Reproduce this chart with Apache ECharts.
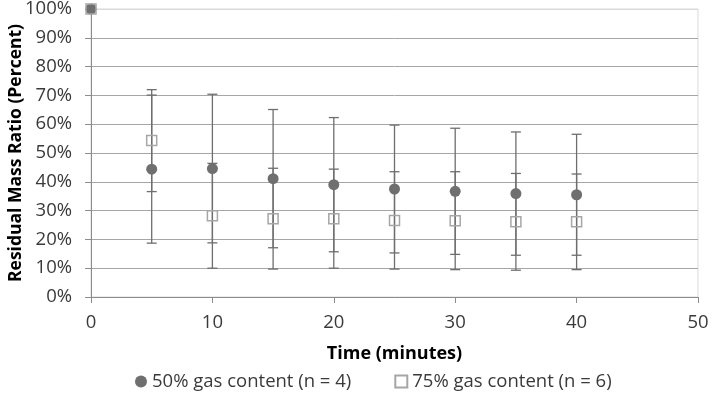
<!DOCTYPE html>
<html><head><meta charset="utf-8">
<script src="https://cdn.jsdelivr.net/npm/echarts@6/dist/echarts.min.js"></script>
<style>html,body{margin:0;padding:0;background:#fff}#c{width:714px;height:400px}</style>
</head><body><div id="c"></div>
<script>
const timeMinutes = [0, 5, 10, 15, 20, 25, 30, 35, 40];
const gas50Mean = [100, 44.4, 44.6, 41.1, 39.0, 37.5, 36.7, 35.9, 35.5];
const gas50Err  = [0, 25.7, 25.8, 24.0, 23.3, 22.2, 21.9, 21.4, 21.0];
const gas75Mean = [100, 54.3, 28.2, 27.2, 27.2, 26.6, 26.5, 26.1, 26.1];
const gas75Err  = [0, 17.7, 18.2, 17.5, 17.2, 16.9, 17.0, 16.8, 16.6];
const xTicks = [0, 10, 20, 30, 40, 50];
const yTicks = [0, 10, 20, 30, 40, 50, 60, 70, 80, 90, 100];
const seriesNames = ['50% gas content (n = 4)', '75% gas content (n = 6)'];

const FONT = 'Open Sans';
const TXT = '#3a3a3a';
const BAR = '#6e6e6e';

function pts(means) { return timeMinutes.map((t, i) => [t, means[i]]); }
function errs(means, e) {
  return timeMinutes.map((t, i) => [t, means[i] - e[i], means[i] + e[i]]).filter((d, i) => e[i] > 0);
}
function renderErr(params, api) {
  const x = api.value(0), lo = api.value(1), hi = api.value(2);
  const top = api.coord([x, hi]), bot = api.coord([x, lo]);
  const w = 5;
  const st = { stroke: BAR, lineWidth: 1.3 };
  return { type: 'group', children: [
    { type: 'line', shape: { x1: top[0], y1: top[1], x2: bot[0], y2: bot[1] }, style: st },
    { type: 'line', shape: { x1: top[0] - w, y1: top[1], x2: top[0] + w, y2: top[1] }, style: st },
    { type: 'line', shape: { x1: bot[0] - w, y1: bot[1], x2: bot[0] + w, y2: bot[1] }, style: st }
  ]};
}
const gridColors = yTicks.map(v => v === 100 ? '#d9d9d9' : '#a6a6a6');

const chart = echarts.init(document.getElementById('c'), null, { renderer: 'canvas' });
chart.setOption({
  animation: false,
  backgroundColor: '#fff',
  textStyle: { fontFamily: FONT },
  grid: { left: 91, right: 16, top: 9, bottom: 103, containLabel: false, outerBoundsMode: 'none', show: true, borderColor: '#d9d9d9', borderWidth: 1, backgroundColor: 'transparent' },
  xAxis: {
    type: 'value', min: xTicks[0], max: xTicks[xTicks.length - 1], interval: 10,
    name: 'Time (minutes)', nameLocation: 'middle', nameGap: 48, nameMoveOverlap: false,
    nameTextStyle: { fontFamily: FONT, fontSize: 18, fontWeight: 'bold', color: '#000' },
    axisLine: { show: true, lineStyle: { color: '#8c8c8c', width: 1 } },
    axisTick: { show: true, length: 6, inside: false, lineStyle: { color: '#8c8c8c' } },
    axisLabel: { fontFamily: FONT, fontSize: 18.5, color: TXT, margin: 16 },
    splitLine: { show: false }
  },
  yAxis: {
    type: 'value', min: 0, max: 100, interval: 10,
    name: 'Residual Mass Ratio (Percent)', nameLocation: 'middle', nameGap: 66, nameMoveOverlap: false,
    nameTextStyle: { fontFamily: FONT, fontSize: 17.5, fontWeight: 'bold', color: '#000' },
    axisLine: { show: true, lineStyle: { color: '#8c8c8c', width: 1 } },
    axisTick: { show: true, length: 6, lineStyle: { color: '#8c8c8c' } },
    axisLabel: { fontFamily: FONT, fontSize: 18.5, color: TXT, margin: 19, formatter: '{value}%' },
    splitLine: { show: true, lineStyle: { color: gridColors, width: 1 } }
  },
  legend: {
    bottom: 4, left: 130, itemGap: 43, itemWidth: 12, itemHeight: 12,
    textStyle: { fontFamily: FONT, fontSize: 18.5, color: TXT },
    data: [
      { name: seriesNames[0], icon: 'circle' },
      { name: seriesNames[1], icon: 'rect' }
    ]
  },
  series: [
    { type: 'custom', name: seriesNames[0] + ' err', renderItem: renderErr, data: errs(gas50Mean, gas50Err), encode: { x: 0, y: [1, 2] }, z: 2, silent: true },
    { type: 'custom', name: seriesNames[1] + ' err', renderItem: renderErr, data: errs(gas75Mean, gas75Err), encode: { x: 0, y: [1, 2] }, z: 2, silent: true },
    { type: 'scatter', name: seriesNames[0], symbol: 'circle', symbolSize: 11, data: pts(gas50Mean), itemStyle: { color: '#6f6f6f', opacity: 1 }, z: 3 },
    { type: 'scatter', name: seriesNames[1], symbol: 'rect', symbolSize: 10, data: pts(gas75Mean), itemStyle: { color: 'rgba(255,255,255,0)', borderColor: '#a6a6a6', borderWidth: 1.5, opacity: 1 }, z: 4 }
  ]
});
</script></body></html>
